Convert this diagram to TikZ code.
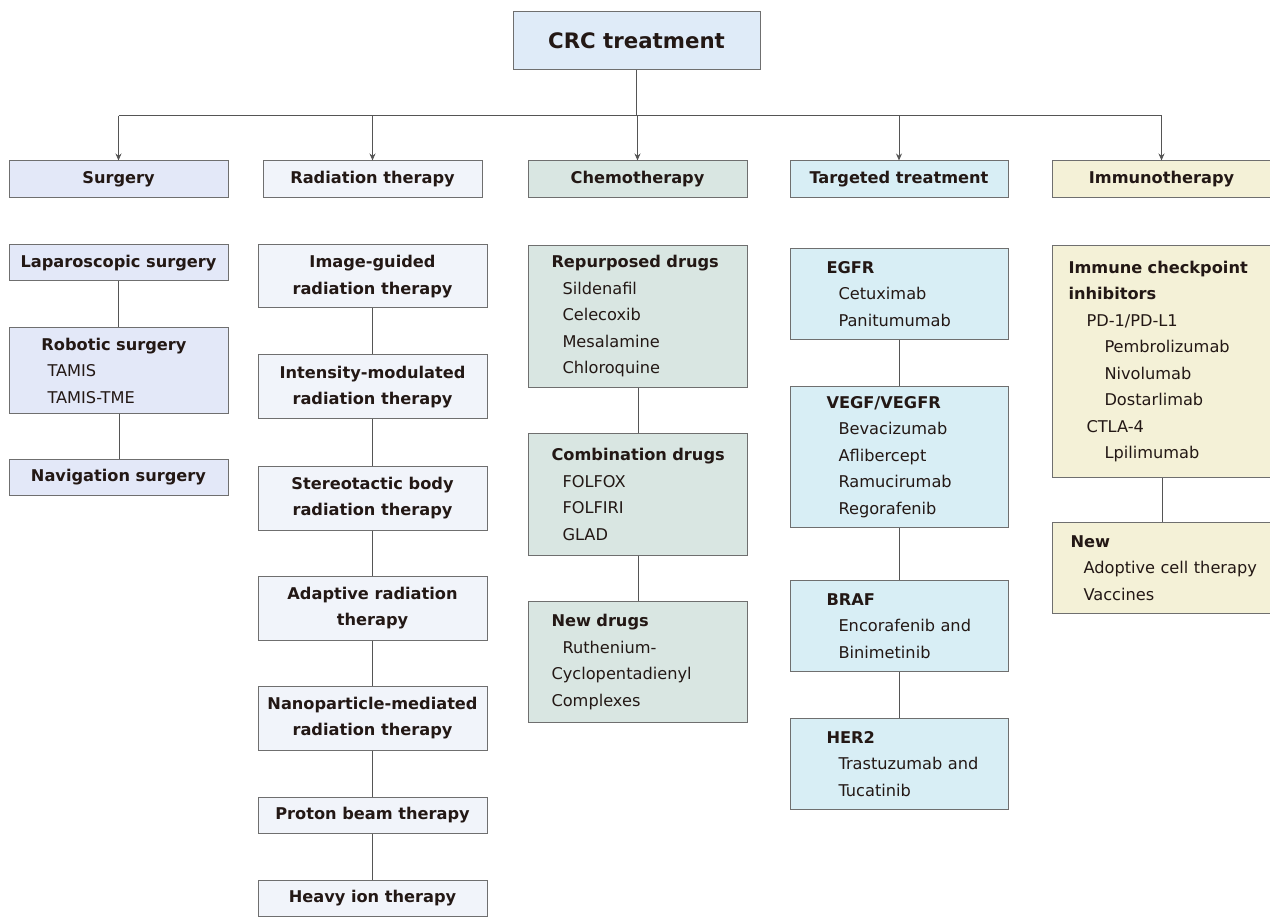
\documentclass[tikz,border=0pt]{standalone}
\usepackage{fontspec}
\setmainfont{DejaVu Sans}
\usetikzlibrary{arrows.meta}

\definecolor{ink}{HTML}{231815}
\definecolor{edge}{HTML}{6F6F6F}
\definecolor{wire}{HTML}{555555}
\definecolor{topfill}{HTML}{DFEBF8}
\definecolor{surgfill}{HTML}{E3E8F8}
\definecolor{radfill}{HTML}{F1F4FA}
\definecolor{chemofill}{HTML}{D9E6E2}
\definecolor{targfill}{HTML}{D8EEF5}
\definecolor{immufill}{HTML}{F4F1D7}

\newcommand{\bodyfont}{\fontsize{16.2}{26.5}\selectfont}

\tikzset{
	box/.style={draw=edge,line width=1pt,text=ink,inner sep=0pt,font=\bodyfont\bfseries},
	cbox/.style 2 args={box,minimum width=#1,minimum height=#2,align=center},
	listbox/.style n args={4}{box,font=\bodyfont,anchor=north west,minimum width=#1,minimum height=#2,inner xsep=#3,text width=#4,align=left},
	link/.style={draw=wire,line width=1pt},
	feed/.style={link,-{Stealth[length=7pt,width=6pt]}}
}

\begin{document}
\begin{tikzpicture}[x=1pt,y=-1pt]
	\useasboundingbox (0,0) rectangle (1270,917);

	\node [cbox={247pt}{58pt},fill=topfill,font=\fontsize{21.3}{25}\selectfont\bfseries] (crc) at (636.5,41) {CRC treatment};
	\coordinate (hub) at (636.5,116);

	\node [cbox={219pt}{37pt},fill=surgfill] (surg) at (118.5,179.5) {Surgery};
	\node [cbox={219pt}{37pt},fill=radfill] (rad) at (372.5,179.5) {Radiation therapy};
	\node [cbox={219pt}{37pt},fill=chemofill] (chemo) at (637.5,179.5) {Chemotherapy};
	\node [cbox={218pt}{37pt},fill=targfill] (targ) at (899,179.5) {Targeted treatment};
	\node [cbox={219pt}{37pt},fill=immufill] (immu) at (1161.5,179.5) {Immunotherapy};

	\draw [link] (crc.south) -- (hub);
	\draw [link] (hub -| surg.north) -- (hub -| immu.north);
	\foreach \col in {surg,rad,chemo,targ,immu}
		\draw [feed] (hub -| \col.north) -- (\col.north);

	% surgery
	\node [cbox={219pt}{36pt},fill=surgfill] (lap) at (118.5,263) {Laparoscopic surgery};
	\node [listbox={219pt}{86pt}{32pt}{155pt},fill=surgfill] (rob) at (9,327)
		{\mbox{\textbf{Robotic surgery}}\\\hspace*{6pt}TAMIS\\\hspace*{6pt}TAMIS-TME};
	\node [cbox={219pt}{36pt},fill=surgfill] (nav) at (118.5,477) {Navigation surgery};

	% radiation
	\node [cbox={229pt}{63pt},fill=radfill] (igrt) at (372.5,276.5) {Image-guided\\radiation therapy};
	\node [cbox={229pt}{64pt},fill=radfill] (imrt) at (372.5,387) {Intensity-modulated\\radiation therapy};
	\node [cbox={229pt}{64pt},fill=radfill] (sbrt) at (372.5,498) {Stereotactic body\\radiation therapy};
	\node [cbox={229pt}{64pt},fill=radfill] (art) at (372.5,608) {Adaptive radiation\\therapy};
	\node [cbox={229pt}{64pt},fill=radfill] (nano) at (372.5,718) {Nanoparticle-mediated\\radiation therapy};
	\node [cbox={229pt}{36pt},fill=radfill] (proton) at (372.5,815) {Proton beam therapy};
	\node [cbox={229pt}{36pt},fill=radfill] (heavy) at (372.5,898) {Heavy ion therapy};

	% chemotherapy
	\node [listbox={219pt}{142pt}{23pt}{173pt},fill=chemofill] (repur) at (528,245)
		{\mbox{\textbf{Repurposed drugs}}\\\hspace*{11pt}Sildenafil\\\hspace*{11pt}Celecoxib\\\hspace*{11pt}Mesalamine\\\hspace*{11pt}Chloroquine};
	\node [listbox={219pt}{122pt}{23pt}{173pt},fill=chemofill] (combo) at (528,433)
		{\mbox{\textbf{Combination drugs}}\\\hspace*{11pt}FOLFOX\\\hspace*{11pt}FOLFIRI\\\hspace*{11pt}GLAD};
	\node [listbox={219pt}{121pt}{23pt}{173pt},fill=chemofill] (newdrug) at (528,601)
		{\mbox{\textbf{New drugs}}\\\hspace*{11pt}Ruthenium-\\Cyclopentadienyl\\Complexes};

	% targeted
	\node [listbox={218pt}{91pt}{36pt}{146pt},fill=targfill] (egfr) at (790,248)
		{\textbf{EGFR}\\\hspace*{12pt}Cetuximab\\\hspace*{12pt}Panitumumab};
	\node [listbox={218pt}{141pt}{36pt}{146pt},fill=targfill] (vegf) at (790,386)
		{\textbf{VEGF/VEGFR}\\\hspace*{12pt}Bevacizumab\\\hspace*{12pt}Aflibercept\\\hspace*{12pt}Ramucirumab\\\hspace*{12pt}Regorafenib};
	\node [listbox={218pt}{91pt}{36pt}{146pt},fill=targfill] (braf) at (790,580)
		{\textbf{BRAF}\\\hspace*{12pt}\mbox{Encorafenib and}\\\hspace*{12pt}Binimetinib};
	\node [listbox={218pt}{91pt}{36pt}{146pt},fill=targfill] (her2) at (790,718)
		{\textbf{HER2}\\\hspace*{12pt}\mbox{Trastuzumab and}\\\hspace*{12pt}Tucatinib};

	% immunotherapy
	\node [listbox={219pt}{232pt}{16pt}{187pt},fill=immufill] (ici) at (1052,245)
		{\mbox{\textbf{Immune checkpoint}}\\\textbf{inhibitors}\\\hspace*{18pt}PD-1/PD-L1\\\hspace*{36pt}Pembrolizumab\\\hspace*{36pt}Nivolumab\\\hspace*{36pt}Dostarlimab\\\hspace*{18pt}CTLA-4\\\hspace*{36pt}Lpilimumab};
	\node [listbox={219pt}{91pt}{18pt}{183pt},fill=immufill] (newimm) at (1052,522)
		{\textbf{New}\\\hspace*{13pt}\mbox{Adoptive cell therapy}\\\hspace*{13pt}Vaccines};

	\foreach \up/\down in {lap/rob,rob/nav,igrt/imrt,imrt/sbrt,sbrt/art,art/nano,nano/proton,proton/heavy,
		repur/combo,combo/newdrug,egfr/vegf,vegf/braf,braf/her2,ici/newimm}
		\draw [link] (\up.south) -- (\up.south |- \down.north);
\end{tikzpicture}
\end{document}
